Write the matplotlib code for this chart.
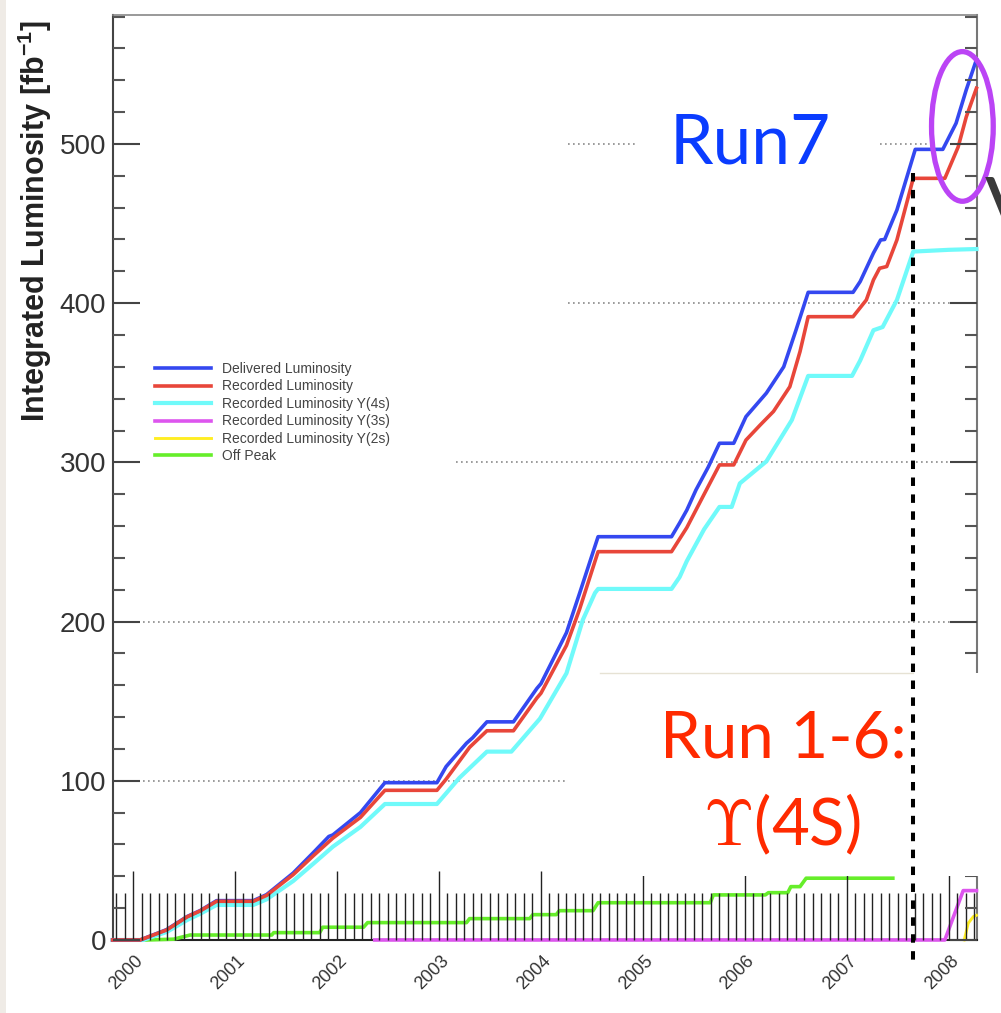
import matplotlib
matplotlib.use('Agg')
import matplotlib.pyplot as plt
import matplotlib.transforms as mtransforms
from matplotlib.patches import Rectangle, Ellipse
from matplotlib.ticker import MultipleLocator
import numpy as np

plt.rcParams['font.family'] = ['Liberation Sans', 'DejaVu Sans']
plt.rcParams['mathtext.fontset'] = 'custom'
plt.rcParams['mathtext.rm'] = 'Liberation Sans'
plt.rcParams['mathtext.bf'] = 'Liberation Sans:bold'
plt.rcParams['mathtext.it'] = 'Liberation Sans:italic'

# ---------------- data ----------------
series_labels = ["Delivered Luminosity", "Recorded Luminosity",
                 "Recorded Luminosity Y(4s)", "Recorded Luminosity Y(3s)",
                 "Recorded Luminosity Y(2s)", "Off Peak"]

delivered_x = [1999.80, 2000.07, 2000.33, 2000.53, 2000.66, 2000.82, 2001.18, 2001.31, 2001.57,
               2001.77, 2001.92, 2001.96, 2002.23, 2002.47, 2002.98, 2003.07, 2003.27, 2003.33,
               2003.47, 2003.73, 2003.96, 2004.00, 2004.25, 2004.38, 2004.56, 2005.28, 2005.36,
               2005.43, 2005.52, 2005.64, 2005.75, 2005.89, 2006.01, 2006.21, 2006.38, 2006.50,
               2006.62, 2007.06, 2007.13, 2007.26, 2007.33, 2007.37, 2007.49, 2007.67, 2007.94,
               2008.07, 2008.17, 2008.27]
delivered_y = [0, 0, 6.5, 14.7, 18.5, 24.7, 24.7, 28.5, 42,
               55, 65, 66, 80, 98.8, 98.8, 108.9, 123.6, 127,
               137, 137, 158, 161, 193, 218, 253.3, 253.3, 262,
               270, 282.7, 297, 312, 312, 328.7, 343.5, 360, 383,
               406.8, 406.8, 413.6, 431.5, 439.7, 440, 458.5, 496.6, 496.6,
               513, 534, 553]

recorded_x = [1999.80, 2000.07, 2000.33, 2000.53, 2000.66, 2000.82, 2001.18, 2001.31, 2001.57,
              2001.77, 2001.96, 2002.23, 2002.47, 2002.98, 2003.07, 2003.30, 2003.47, 2003.73,
              2003.96, 2004.00, 2004.25, 2004.38, 2004.56, 2005.28, 2005.43, 2005.60, 2005.75,
              2005.89, 2006.01, 2006.15, 2006.28, 2006.44, 2006.54, 2006.62, 2007.06, 2007.19,
              2007.26, 2007.32, 2007.39, 2007.49, 2007.65, 2007.96, 2008.09, 2008.17, 2008.27]
recorded_y = [0, 0, 6.3, 14.5, 18.3, 24.3, 24.3, 28, 41,
              53, 64, 77, 94, 94, 101, 121, 131.4, 131.4,
              152, 155, 185, 208, 243.9, 243.9, 259, 280, 298.4,
              298.4, 314, 323.5, 332, 347.5, 369.6, 391.5, 391.5, 402,
              414.6, 421.9, 423, 439.7, 478.4, 478.4, 498, 517, 535]

y4s_x = [1999.80, 2000.10, 2000.33, 2000.53, 2000.66, 2000.82, 2001.18, 2001.31, 2001.57,
         2001.77, 2001.96, 2002.23, 2002.47, 2002.98, 2003.20, 2003.47, 2003.71, 2003.99,
         2004.25, 2004.41, 2004.53, 2004.56, 2005.28, 2005.36, 2005.43, 2005.60, 2005.75,
         2005.87, 2005.95, 2006.21, 2006.46, 2006.62, 2007.05, 2007.13, 2007.26, 2007.35,
         2007.49, 2007.65, 2008.00, 2008.27]
y4s_y = [0, 0, 5, 12.5, 16.5, 22, 22, 25.5, 37,
         48, 58.6, 71, 85.4, 85.4, 101.8, 118.3, 118.3, 139,
         167.5, 201, 218, 220.5, 220.5, 228, 238, 258, 272,
         272, 286.8, 300.6, 326.6, 354.3, 354.3, 364, 383, 385,
         402, 432.4, 433.5, 434]

y3s_x = [2002.37, 2007.96, 2008.14, 2008.27]
y3s_y = [0, 0, 31, 31]

y2s_x = [2008.15, 2008.19, 2008.24, 2008.27]
y2s_y = [0, 10.6, 14.7, 15.5]

offpeak_x = [2000.13, 2000.40, 2000.46, 2000.56, 2001.36, 2001.38, 2001.83, 2001.86, 2002.26,
             2002.30, 2003.27, 2003.30, 2003.89, 2003.92, 2004.15, 2004.18, 2004.51, 2004.56,
             2005.66, 2005.69, 2006.20, 2006.23, 2006.42, 2006.45, 2006.54, 2006.60, 2007.45]
offpeak_y = [0, 0.5, 1.5, 3.1, 3.1, 4.6, 4.6, 8.0, 8.0,
             10.9, 10.9, 13.4, 13.4, 15.9, 15.9, 18.4, 18.4, 23.4,
             23.4, 28.3, 28.3, 29.7, 29.7, 33.5, 33.5, 38.8, 38.8]

year_ticks = [2000, 2001, 2002, 2003, 2004, 2005, 2006, 2007, 2008]
year_labels = [str(y) for y in year_ticks]
lumi_ticks = [0, 100, 200, 300, 400, 500]
lumi_labels = [str(v) for v in lumi_ticks]

run7_start = 2007.65
ellipse_center = (2008.132, 511)
ellipse_size = (0.605, 94)

# ---------------- figure ----------------
fig = plt.figure(figsize=(10.01, 10.13), dpi=100)
fig.patch.set_facecolor('white')
ax = fig.add_axes([0.1129, 0.0721, 0.8631, 0.9131])
ax.set_xlim(1999.804, 2008.275)
ax.set_ylim(0, 581)
ax.set_axisbelow(False)

# dotted horizontal grid (partially hidden on the slide)
grid_segments = {500: [(0.527, 0.605), (0.888, 0.95)], 400: [(0.527, 1.0)],
                 300: [(0.397, 1.0)], 200: [(0.0, 1.0)], 100: [(0.0, 0.527)]}
for yv, segs in grid_segments.items():
    for a, b in segs:
        ax.axhline(yv, xmin=a, xmax=b, color='#8a8a8a', lw=1.2,
                   linestyle=(0, (1, 2)), zorder=1)

lw = 2.6
l_green, = ax.plot(offpeak_x, offpeak_y, color='#66ee2a', lw=lw, zorder=2.1, clip_on=False)
l_yellow, = ax.plot(y2s_x, y2s_y, color='#ffee22', lw=lw * 0.8, zorder=2.2, clip_on=False)
l_mag, = ax.plot(y3s_x, y3s_y, color='#dd55ee', lw=lw, zorder=2.3, clip_on=False)
l_cyan, = ax.plot(y4s_x, y4s_y, color='#70fafa', lw=lw + 0.4, zorder=2.4, clip_on=False)
l_blue, = ax.plot(delivered_x, delivered_y, color='#3448f0', lw=lw, zorder=2.45, clip_on=False)
l_red, = ax.plot(recorded_x, recorded_y, color='#e8463a', lw=lw, zorder=2.47, clip_on=False)

# axes styling
ax.set_xticks(year_ticks)
ax.set_xticklabels(year_labels)
ax.xaxis.set_minor_locator(MultipleLocator(1 / 12))
ax.set_yticks(lumi_ticks)
ax.set_yticklabels(lumi_labels)
ax.yaxis.set_minor_locator(MultipleLocator(20))

ax.tick_params(axis='x', which='major', direction='in', length=49.7, width=1.0,
               color='#222222', bottom=True, top=False, pad=13,
               labelsize=13, labelcolor='#333333')
ax.tick_params(axis='x', which='minor', direction='in', length=33.8, width=1.0,
               color='#222222', bottom=True, top=False)
ax.tick_params(axis='y', which='major', direction='in', length=19.4, width=1.5,
               color='#444444', left=True, right=True, pad=5,
               labelsize=20, labelcolor='#333333')
ax.tick_params(axis='y', which='minor', direction='in', length=8.6, width=1.5,
               color='#555555', left=True, right=True)

offset = mtransforms.ScaledTranslation(7 / 100, 0, fig.dpi_scale_trans)
for lbl in ax.get_xticklabels():
    lbl.set_rotation(45)
    lbl.set_ha('right')
    lbl.set_va('center')
    lbl.set_rotation_mode('anchor')
    lbl.set_transform(lbl.get_transform() + offset)

ax.spines['left'].set_color('#444444')
ax.spines['left'].set_linewidth(1.5)
ax.spines['right'].set_color('#777777')
ax.spines['right'].set_linewidth(1.5)
ax.spines['top'].set_color('#888888')
ax.spines['top'].set_linewidth(1.2)
ax.spines['bottom'].set_color('#222222')
ax.spines['bottom'].set_linewidth(1.5)
for s in ax.spines.values():
    s.set_zorder(1.9)

fig.text(0.035, 0.782, r"Integrated Luminosity [fb$^{\mathbf{-1}}$]", rotation=90,
         ha='center', va='center', fontsize=22, fontweight='bold', color='#222222')

leg = ax.legend([l_blue, l_red, l_cyan, l_mag, l_yellow, l_green], series_labels,
                loc='upper left', bbox_to_anchor=(155 / 1001, 1 - 362 / 1013),
                bbox_transform=fig.transFigure, frameon=False, fontsize=10,
                handlelength=4.0, handletextpad=0.8, labelspacing=0.25,
                borderpad=0, borderaxespad=0)
for t in leg.get_texts():
    t.set_color('#444444')

# ---------------- slide overlays ----------------
box = Rectangle((0.5994, 0.1352), 0.4006, 0.2004, transform=fig.transFigure,
                facecolor='white', edgecolor='none', zorder=5)
ax.add_patch(box)
box.set_clip_on(False)
ax.plot([0.5994, 0.912], [0.3356, 0.3356], transform=fig.transFigure, color='#e6e2d4',
        lw=1.0, clip_on=False, zorder=5.1)

blend = mtransforms.blended_transform_factory(ax.transData, fig.transFigure)
ax.plot([run7_start, run7_start], [1 - 173 / 1013, 1 - 965 / 1013], transform=blend,
        color='black', lw=2.9, linestyle=(0, (2.1, 2.1)), clip_on=False, zorder=7)

ell = Ellipse(ellipse_center, ellipse_size[0], ellipse_size[1], transform=ax.transData,
              fill=False, edgecolor='#bb44f5', lw=3.8, zorder=8)
ax.add_patch(ell)
ell.set_clip_on(False)

fig.text(670 / 1001, 1 - 163 / 1013, "Run7", family=['Lato', 'DejaVu Sans'], fontsize=50,
         color='#0a3cff', ha='left', va='baseline', zorder=10)
fig.text(660 / 1001, 1 - 758 / 1013, "Run 1-6:", family=['Lato', 'DejaVu Sans'], fontsize=47,
         color='#ff2a00', ha='left', va='baseline', zorder=10)
fig.text(703 / 1001, 1 - 845 / 1013, r"$\Upsilon$(4S)", family=['Lato', 'DejaVu Sans'],
         math_fontfamily='cm', fontsize=47, color='#ff2a00', ha='left', va='baseline', zorder=10)
fig.text(985 / 1001, 1 - 176 / 1013, "V", family=['Lato', 'DejaVu Sans'], fontsize=60,
         color='#3a3a3a', ha='left', va='top', zorder=10)

fig.patches.append(Rectangle((0, 0), 6 / 1001, 1, transform=fig.transFigure,
                             facecolor='#efebe6', edgecolor='none', zorder=0))

fig.savefig('out.png', dpi=100)
